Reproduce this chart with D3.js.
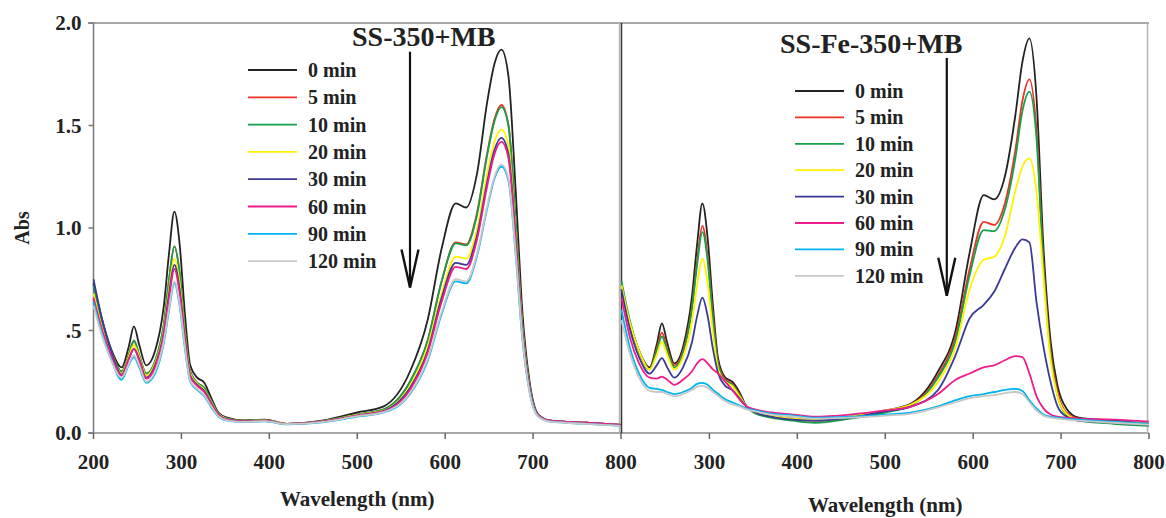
<!DOCTYPE html>
<meta charset="utf-8">

<head>
	<script src="https://d3js.org/d3.v7.min.js"></script>
	<style>
		body { margin: 0; background: #fff; }
		text { font-family: "Liberation Serif", "Times New Roman", serif; font-weight: bold; fill: #222; }
		.tick-label { font-size: 21px; }
		.legend text { font-size: 20px; }
		.title { font-size: 28px; }
		.spectrum { fill: none; stroke-width: 1.8; }
	</style>
</head>

<body>
	<svg id="svg"></svg>
</body>
<script>
	// wavelength grid (nm) shared by all spectra
	var wavelengths = [200, 210, 220, 232, 240, 246, 252, 260, 270, 280, 286, 292, 298, 304, 310, 318, 326, 334, 342, 352, 370, 395, 420, 460, 500, 530, 560, 580, 596, 612, 624, 636, 648, 656, 664, 672, 680, 688, 696, 706, 720, 760, 800];

	var timeLabels = ['0 min', '5 min', '10 min', '20 min', '30 min', '60 min', '90 min', '120 min'];
	var lineColors = ['#222222', '#ee3124', '#14a04a', '#fff200', '#3a3a96', '#ec1e8c', '#00b4ef', '#c8c8c8'];

	var xTicks = [200, 300, 400, 500, 600, 700, 800];
	var yTicks = [0, 0.5, 1.0, 1.5, 2.0];
	var yTickLabels = ['0.0', '.5', '1.0', '1.5', '2.0'];

	// SS-350+MB
	var ss0 = [0.73, 0.55, 0.41, 0.32, 0.42, 0.52, 0.43, 0.33, 0.40, 0.62, 0.88, 1.08, 0.92, 0.58, 0.33, 0.27, 0.245, 0.17, 0.10, 0.075, 0.062, 0.065, 0.045, 0.06, 0.10, 0.13, 0.30, 0.55, 0.90, 1.12, 1.10, 1.26, 1.62, 1.80, 1.87, 1.74, 1.20, 0.58, 0.25, 0.09, 0.06, 0.05, 0.04];
	var ss5 = [0.72, 0.54, 0.40, 0.30, 0.38, 0.45, 0.38, 0.29, 0.35, 0.53, 0.75, 0.91, 0.78, 0.50, 0.30, 0.245, 0.22, 0.155, 0.095, 0.07, 0.06, 0.062, 0.045, 0.058, 0.09, 0.115, 0.25, 0.45, 0.74, 0.93, 0.92, 1.07, 1.37, 1.53, 1.60, 1.50, 1.05, 0.52, 0.23, 0.085, 0.06, 0.05, 0.04];
	var ss10 = [0.72, 0.54, 0.40, 0.30, 0.38, 0.45, 0.38, 0.29, 0.35, 0.53, 0.75, 0.91, 0.78, 0.50, 0.30, 0.245, 0.22, 0.155, 0.095, 0.07, 0.06, 0.062, 0.045, 0.058, 0.09, 0.115, 0.25, 0.45, 0.74, 0.925, 0.915, 1.06, 1.36, 1.52, 1.59, 1.50, 1.05, 0.52, 0.23, 0.085, 0.06, 0.05, 0.04];
	var ss20 = [0.68, 0.51, 0.39, 0.29, 0.37, 0.43, 0.37, 0.28, 0.34, 0.50, 0.70, 0.85, 0.73, 0.47, 0.29, 0.24, 0.21, 0.15, 0.092, 0.068, 0.058, 0.062, 0.045, 0.056, 0.088, 0.11, 0.23, 0.42, 0.68, 0.86, 0.85, 0.99, 1.27, 1.42, 1.48, 1.40, 0.98, 0.50, 0.22, 0.085, 0.06, 0.05, 0.04];
	var ss30 = [0.75, 0.55, 0.40, 0.285, 0.36, 0.41, 0.36, 0.27, 0.33, 0.49, 0.68, 0.82, 0.70, 0.46, 0.28, 0.235, 0.205, 0.145, 0.09, 0.066, 0.057, 0.06, 0.044, 0.055, 0.086, 0.108, 0.22, 0.40, 0.66, 0.83, 0.82, 0.96, 1.23, 1.38, 1.44, 1.36, 0.96, 0.49, 0.22, 0.085, 0.06, 0.05, 0.04];
	var ss60 = [0.66, 0.50, 0.38, 0.28, 0.36, 0.41, 0.355, 0.265, 0.32, 0.48, 0.66, 0.80, 0.68, 0.45, 0.275, 0.23, 0.20, 0.14, 0.088, 0.065, 0.056, 0.06, 0.044, 0.055, 0.085, 0.105, 0.21, 0.39, 0.64, 0.81, 0.80, 0.94, 1.21, 1.36, 1.42, 1.34, 0.95, 0.48, 0.21, 0.085, 0.06, 0.05, 0.04];
	var ss90 = [0.64, 0.48, 0.36, 0.26, 0.33, 0.37, 0.32, 0.245, 0.29, 0.44, 0.60, 0.73, 0.62, 0.41, 0.25, 0.21, 0.18, 0.125, 0.08, 0.06, 0.053, 0.057, 0.042, 0.052, 0.08, 0.10, 0.19, 0.35, 0.58, 0.74, 0.73, 0.86, 1.10, 1.24, 1.30, 1.23, 0.88, 0.45, 0.20, 0.08, 0.055, 0.045, 0.035];
	var ss120 = [0.62, 0.47, 0.355, 0.27, 0.335, 0.38, 0.33, 0.25, 0.30, 0.45, 0.61, 0.74, 0.63, 0.42, 0.255, 0.215, 0.185, 0.13, 0.082, 0.062, 0.054, 0.058, 0.043, 0.053, 0.082, 0.102, 0.195, 0.36, 0.59, 0.75, 0.74, 0.87, 1.11, 1.25, 1.31, 1.24, 0.89, 0.46, 0.20, 0.08, 0.055, 0.045, 0.035];

	// SS-Fe-350+MB
	var fe0 = [0.70, 0.52, 0.40, 0.32, 0.43, 0.535, 0.44, 0.34, 0.42, 0.66, 0.92, 1.12, 0.95, 0.62, 0.36, 0.27, 0.25, 0.20, 0.13, 0.10, 0.085, 0.07, 0.065, 0.08, 0.11, 0.145, 0.30, 0.50, 0.88, 1.16, 1.14, 1.25, 1.55, 1.81, 1.925, 1.64, 0.90, 0.45, 0.23, 0.12, 0.075, 0.06, 0.045];
	var fe5 = [0.72, 0.53, 0.40, 0.31, 0.41, 0.49, 0.41, 0.33, 0.40, 0.61, 0.84, 1.01, 0.86, 0.57, 0.34, 0.26, 0.24, 0.19, 0.13, 0.10, 0.08, 0.065, 0.06, 0.075, 0.105, 0.14, 0.28, 0.47, 0.80, 1.03, 1.015, 1.12, 1.38, 1.62, 1.725, 1.48, 0.82, 0.40, 0.20, 0.10, 0.07, 0.055, 0.045];
	var fe10 = [0.74, 0.54, 0.40, 0.31, 0.40, 0.47, 0.40, 0.32, 0.39, 0.60, 0.82, 0.98, 0.84, 0.55, 0.33, 0.255, 0.235, 0.185, 0.13, 0.095, 0.075, 0.06, 0.05, 0.07, 0.10, 0.135, 0.27, 0.45, 0.77, 0.99, 0.985, 1.09, 1.34, 1.57, 1.665, 1.44, 0.80, 0.38, 0.18, 0.09, 0.06, 0.045, 0.035];
	var fe20 = [0.72, 0.53, 0.40, 0.31, 0.38, 0.445, 0.38, 0.31, 0.37, 0.54, 0.72, 0.85, 0.73, 0.49, 0.31, 0.25, 0.23, 0.18, 0.13, 0.10, 0.085, 0.07, 0.065, 0.08, 0.11, 0.14, 0.25, 0.42, 0.70, 0.845, 0.86, 0.96, 1.18, 1.30, 1.34, 1.18, 0.76, 0.36, 0.18, 0.095, 0.065, 0.05, 0.045];
	var fe30 = [0.70, 0.50, 0.37, 0.29, 0.33, 0.365, 0.32, 0.27, 0.32, 0.44, 0.57, 0.66, 0.57, 0.41, 0.29, 0.23, 0.21, 0.17, 0.13, 0.10, 0.08, 0.065, 0.06, 0.075, 0.105, 0.13, 0.21, 0.38, 0.56, 0.625, 0.69, 0.80, 0.905, 0.945, 0.93, 0.64, 0.42, 0.25, 0.13, 0.08, 0.06, 0.05, 0.04];
	var fe60 = [0.66, 0.46, 0.34, 0.27, 0.265, 0.275, 0.26, 0.235, 0.26, 0.30, 0.34, 0.36, 0.34, 0.31, 0.29, 0.25, 0.21, 0.165, 0.13, 0.115, 0.10, 0.09, 0.08, 0.09, 0.11, 0.13, 0.19, 0.26, 0.29, 0.32, 0.33, 0.355, 0.375, 0.37, 0.29, 0.18, 0.12, 0.09, 0.08, 0.075, 0.07, 0.065, 0.055];
	var fe90 = [0.60, 0.41, 0.29, 0.22, 0.215, 0.21, 0.20, 0.19, 0.20, 0.22, 0.24, 0.245, 0.235, 0.21, 0.19, 0.165, 0.15, 0.135, 0.12, 0.11, 0.095, 0.085, 0.075, 0.08, 0.09, 0.10, 0.13, 0.16, 0.18, 0.19, 0.20, 0.21, 0.215, 0.205, 0.16, 0.12, 0.09, 0.08, 0.075, 0.07, 0.065, 0.055, 0.045];
	var fe120 = [0.55, 0.38, 0.27, 0.205, 0.20, 0.20, 0.19, 0.18, 0.19, 0.21, 0.225, 0.23, 0.22, 0.20, 0.18, 0.155, 0.14, 0.13, 0.115, 0.105, 0.09, 0.08, 0.07, 0.075, 0.085, 0.095, 0.125, 0.15, 0.17, 0.18, 0.185, 0.195, 0.20, 0.19, 0.15, 0.11, 0.085, 0.075, 0.07, 0.065, 0.06, 0.05, 0.04];

	var panels = [
		{ title: 'SS-350+MB', series: [ss0, ss5, ss10, ss20, ss30, ss60, ss90, ss120], x0: 93.5, x1: 621, titleX: 352, titleY: 46, legendX: 248, legendY: 70, legendStep: 27.3, arrowW: 560, arrowTop: 1.86, arrowTip: 0.71, labelY: 506, ticks: xTicks },
		{ title: 'SS-Fe-350+MB', series: [fe0, fe5, fe10, fe20, fe30, fe60, fe90, fe120], x0: 621.5, x1: 1149, titleX: 780, titleY: 53, legendX: 795, legendY: 91, legendStep: 26.4, arrowW: 570, arrowTop: 1.83, arrowTip: 0.67, labelY: 512, ticks: xTicks.slice(1) }
	];

	var width = 1166, height = 518;
	var plotTop = 23, plotBottom = 433;

	var svg = d3.select("#svg")
		.attr('width', width)
		.attr('height', height);

	var y = d3.scaleLinear().domain([0, 2]).range([plotBottom, plotTop]);

	// frame lines
	svg.append('line').attr('x1', 88).attr('x2', 1149).attr('y1', y(2)).attr('y2', y(2))
		.attr('stroke', '#8a8a8a').attr('stroke-width', 1.5);
	svg.append('line').attr('x1', 88).attr('x2', 1149).attr('y1', y(0)).attr('y2', y(0))
		.attr('stroke', '#8a8a8a').attr('stroke-width', 1.5);

	// y axis
	var yAxis = svg.append('g').attr('transform', 'translate(93.5,0)');
	yAxis.append('line').attr('y1', y(0)).attr('y2', y(2)).attr('stroke', '#777').attr('stroke-width', 1.5);
	yTicks.forEach(function (t, i) {
		yAxis.append('line').attr('x1', -5).attr('x2', 0).attr('y1', y(t)).attr('y2', y(t))
			.attr('stroke', '#777').attr('stroke-width', 1.5);
		yAxis.append('text').attr('class', 'tick-label')
			.attr('x', -12).attr('y', y(t) + 7)
			.attr('text-anchor', 'end')
			.text(yTickLabels[i]);
	});

	svg.append('text')
		.attr('transform', 'translate(29,' + y(1) + ') rotate(-90)')
		.attr('text-anchor', 'middle')
		.attr('font-size', '20px')
		.text('Abs');

	panels.forEach(function (p, pi) {
		var x = d3.scaleLinear().domain([200, 800]).range([p.x0, p.x1]);
		var g = svg.append('g');

		// right edge of the panel
		g.append('line').attr('x1', p.x1 - 1.5).attr('x2', p.x1 - 1.5).attr('y1', y(0)).attr('y2', y(2))
			.attr('stroke', '#b5b5b5').attr('stroke-width', 1.5);
		if (pi == 1) {
			g.append('line').attr('x1', p.x0).attr('x2', p.x0).attr('y1', y(0)).attr('y2', y(2))
				.attr('stroke', '#333').attr('stroke-width', 1.5);
		}

		// x ticks
		p.ticks.forEach(function (t) {
			g.append('line').attr('x1', x(t)).attr('x2', x(t)).attr('y1', y(0)).attr('y2', y(0) + 6)
				.attr('stroke', '#666').attr('stroke-width', 1.5);
			g.append('text').attr('class', 'tick-label')
				.attr('x', x(t)).attr('y', 469)
				.attr('text-anchor', 'middle')
				.text(t);
		});

		g.append('text')
			.attr('x', (p.x0 + p.x1) / 2).attr('y', p.labelY)
			.attr('text-anchor', 'middle')
			.attr('font-size', '21px')
			.text('Wavelength (nm)');

		var line = d3.line()
			.x(function (d, i) { return x(wavelengths[i]); })
			.y(function (d) { return y(d); })
			.curve(d3.curveMonotoneX);

		p.series.forEach(function (s, i) {
			g.append('path')
				.attr('class', 'spectrum')
				.attr('stroke', lineColors[i])
				.attr('d', line(s));
		});

		g.append('text').attr('class', 'title')
			.attr('x', p.titleX).attr('y', p.titleY)
			.text(p.title);

		// legend
		var legend = g.append('g').attr('class', 'legend');
		timeLabels.forEach(function (lab, i) {
			var ly = p.legendY + i * p.legendStep;
			legend.append('line')
				.attr('x1', p.legendX).attr('x2', p.legendX + 49)
				.attr('y1', ly).attr('y2', ly)
				.attr('stroke', lineColors[i]).attr('stroke-width', 1.8);
			legend.append('text')
				.attr('x', p.legendX + 60).attr('y', ly + 7)
				.text(lab);
		});

		// arrow showing decrease with time
		var ax = x(p.arrowW), top = y(p.arrowTop), tip = y(p.arrowTip);
		g.append('line').attr('x1', ax).attr('x2', ax).attr('y1', top).attr('y2', tip)
			.attr('stroke', '#111').attr('stroke-width', 2.2);
		g.append('path')
			.attr('d', 'M' + (ax - 8.5) + ',' + (tip - 38) + 'L' + ax + ',' + tip + 'L' + (ax + 8.5) + ',' + (tip - 38))
			.attr('fill', 'none').attr('stroke', '#111').attr('stroke-width', 2.4);
	});
</script>
